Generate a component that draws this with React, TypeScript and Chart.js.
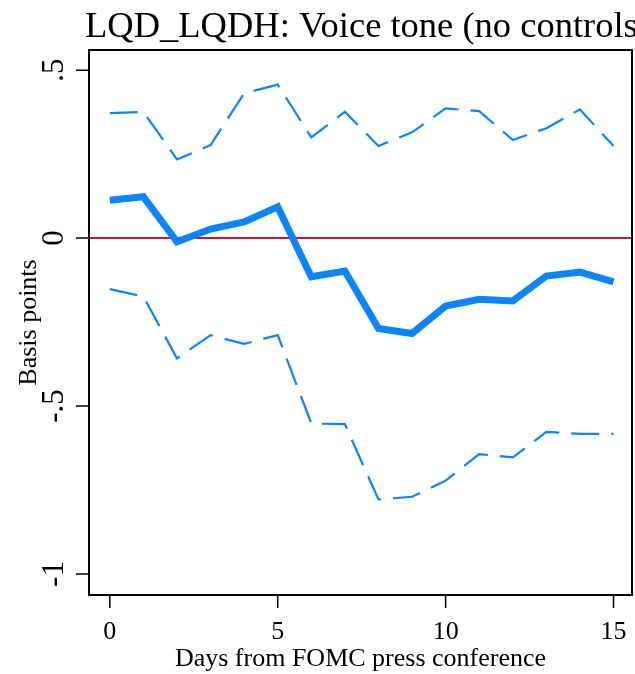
import React, { useEffect, useRef } from "react";
import { Chart, registerables } from "chart.js";

Chart.register(...registerables);

const TITLE = "LQD_LQDH: Voice tone (no controls)";
const X_TITLE = "Days from FOMC press conference";
const Y_TITLE = "Basis points";

const days = [0, 1, 2, 3, 4, 5, 6, 7, 8, 9, 10, 11, 12, 13, 14, 15];
const estimate = [0.113, 0.123, -0.011, 0.027, 0.048, 0.093, -0.115, -0.098, -0.269, -0.284, -0.202, -0.182, -0.187, -0.113, -0.101, -0.13];
const upperBand = [0.372, 0.376, 0.234, 0.277, 0.431, 0.457, 0.3, 0.376, 0.274, 0.315, 0.386, 0.378, 0.292, 0.327, 0.383, 0.274];
const lowerBand = [-0.152, -0.174, -0.358, -0.289, -0.315, -0.289, -0.552, -0.554, -0.778, -0.77, -0.722, -0.643, -0.653, -0.577, -0.583, -0.583];

const xTickValues = [0, 5, 10, 15];
const xTickLabels = ["0", "5", "10", "15"];
const yTickValues = [-1, -0.5, 0, 0.5];
const yTickLabels = ["-1", "-.5", "0", ".5"];

const BLUE = "rgb(10,132,255)";
const RED = "#c8143c";
const FONT = '"Liberation Serif", "Times New Roman", serif';

const decorPlugin = {
  id: "decor",
  beforeDatasetsDraw(chart: any) {
    const { ctx, chartArea, scales } = chart;
    const y0 = scales.y.getPixelForValue(0);
    ctx.save();
    ctx.strokeStyle = RED;
    ctx.lineWidth = 2;
    ctx.beginPath();
    ctx.moveTo(chartArea.left, y0);
    ctx.lineTo(chartArea.right, y0);
    ctx.stroke();
    ctx.restore();
  },
  afterDraw(chart: any) {
    const { ctx, chartArea, scales } = chart;
    const { left, right, top, bottom } = chartArea;
    ctx.save();
    // frame
    ctx.strokeStyle = "#000";
    ctx.lineWidth = 2;
    ctx.strokeRect(left, top, right - left, bottom - top);
    // ticks
    ctx.lineWidth = 1.5;
    ctx.beginPath();
    xTickValues.forEach((v) => {
      const px = scales.x.getPixelForValue(v);
      ctx.moveTo(px, bottom);
      ctx.lineTo(px, bottom + 13);
    });
    yTickValues.forEach((v) => {
      const py = scales.y.getPixelForValue(v);
      ctx.moveTo(left, py);
      ctx.lineTo(left - 13, py);
    });
    ctx.stroke();
    // labels
    ctx.fillStyle = "#000";
    ctx.textAlign = "center";
    ctx.textBaseline = "alphabetic";
    ctx.font = `26px ${FONT}`;
    xTickValues.forEach((v, i) => {
      const px = scales.x.getPixelForValue(v);
      ctx.fillText(xTickLabels[i], px, 639);
    });
    ctx.font = `31px ${FONT}`;
    yTickValues.forEach((v, i) => {
      const py = scales.y.getPixelForValue(v);
      ctx.save();
      ctx.translate(63, py);
      ctx.rotate(-Math.PI / 2);
      ctx.fillText(yTickLabels[i], 0, 0);
      ctx.restore();
    });
    // axis titles
    ctx.font = `26px ${FONT}`;
    ctx.fillText(X_TITLE, (left + right) / 2, 666);
    ctx.save();
    ctx.translate(36, (top + bottom) / 2);
    ctx.rotate(-Math.PI / 2);
    ctx.fillText(Y_TITLE, 0, 0);
    ctx.restore();
    // title
    ctx.font = `36.5px ${FONT}`;
    ctx.textAlign = "left";
    ctx.fillText(TITLE, 85, 37);
    ctx.restore();
  },
};

export default function App() {
  const ref = useRef<HTMLCanvasElement>(null);
  useEffect(() => {
    if (!ref.current) return;
    const mk = (arr: number[]) => days.map((d, i) => ({ x: d, y: arr[i] }));
    const chart = new Chart(ref.current, {
      type: "line",
      data: {
        datasets: [
          {
            data: mk(upperBand),
            borderColor: BLUE,
            borderWidth: 2.2,
            borderDash: [28, 12],
            pointRadius: 0,
            tension: 0,
            borderCapStyle: "butt",
          },
          {
            data: mk(lowerBand),
            borderColor: BLUE,
            borderWidth: 2.2,
            borderDash: [28, 12],
            pointRadius: 0,
            tension: 0,
            borderCapStyle: "butt",
          },
          {
            data: mk(estimate),
            borderColor: BLUE,
            borderWidth: 7,
            pointRadius: 0,
            tension: 0,
            borderJoinStyle: "miter",
          },
        ],
      },
      options: {
        animation: false,
        responsive: false,
        devicePixelRatio: 1,
        layout: { padding: { top: 50, right: 3, left: 0, bottom: 0 } },
        plugins: { legend: { display: false }, tooltip: { enabled: false }, title: { display: false } },
        scales: {
          x: {
            type: "linear",
            min: -0.62,
            max: 15.55,
            grid: { display: false },
            border: { display: false },
            ticks: { display: false },
            afterFit: (s: any) => {
              s.height = 79;
            },
          },
          y: {
            type: "linear",
            min: -1.0625,
            max: 0.56,
            grid: { display: false },
            border: { display: false },
            ticks: { display: false },
            afterFit: (s: any) => {
              s.width = 89;
            },
          },
        },
      },
      plugins: [decorPlugin],
    } as any);
    return () => chart.destroy();
  }, []);
  return (
    <div style={{ position: "fixed", left: 0, top: 0, width: 635, height: 674, background: "#fff" }}>
      <canvas ref={ref} width={635} height={674} />
    </div>
  );
}
